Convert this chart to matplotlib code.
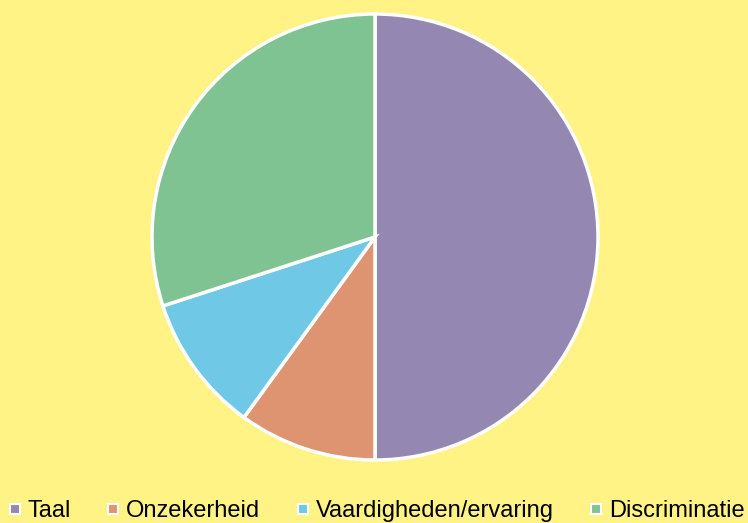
import matplotlib.pyplot as plt
from matplotlib.lines import Line2D

labels = ["Taal", "Onzekerheid", "Vaardigheden/ervaring", "Discriminatie"]
values = [50, 10, 10, 30]
colors = ["#9487B2", "#DE9371", "#6FC8E5", "#7FC393"]
bg = "#FFF385"

plt.rcParams['font.family'] = ['Liberation Sans', 'DejaVu Sans']

fig = plt.figure(figsize=(7.48, 5.23), dpi=100, facecolor=bg)
cx, cy, r = 375, 237, 223
ax = fig.add_axes([(cx - r) / 748, (523 - cy - r) / 523, 2 * r / 748, 2 * r / 523])
ax.set_facecolor(bg)

ax.pie(values, colors=colors, startangle=90, counterclock=False, radius=1,
       wedgeprops=dict(edgecolor="white", linewidth=2.5))
ax.set_xlim(-1, 1)
ax.set_ylim(-1, 1)
ax.set_aspect("equal")
ax.axis("off")

handles = [Line2D([], [], marker="s", linestyle="", markersize=7.5, markerfacecolor=c,
                  markeredgecolor="white", markeredgewidth=1.5) for c in colors]
fig.legend(handles, labels, loc="center", bbox_to_anchor=(0.503, 1 - 511 / 523), ncol=4,
           frameon=False, fontsize=17, handlelength=0.6, handletextpad=0.25,
           columnspacing=1.5, borderpad=0)

fig.savefig("out.png", dpi=100, facecolor=bg)
